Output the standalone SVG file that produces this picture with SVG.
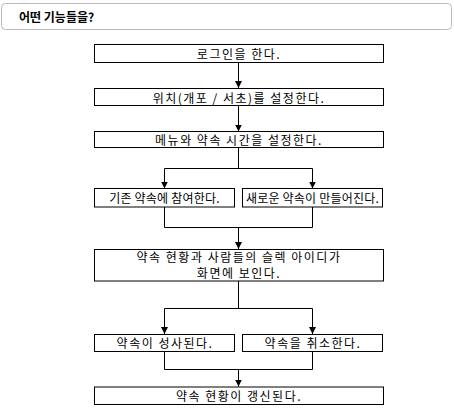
<svg xmlns="http://www.w3.org/2000/svg" width="454" height="413" viewBox="0 0 454 413">
<style>
.box{fill:#fff;stroke:#000;stroke-width:1}
.t{font-family:"Noto Sans CJK KR","Liberation Sans",sans-serif;font-size:12px;letter-spacing:1.5px;fill:#000;text-anchor:middle;dominant-baseline:central}
.s{letter-spacing:0.2px}
.c{fill:none;stroke:#000;stroke-width:1}
</style>
<defs>
<marker id="ah" markerWidth="8" markerHeight="8" refX="7" refY="4" orient="auto" markerUnits="userSpaceOnUse">
<path d="M0,0.5 L7,4 L0,7.5 Z" fill="#000"/>
</marker>
</defs>
<g id="header">
<rect x="1.5" y="3.5" width="450" height="26" rx="4" fill="#fff" stroke="#bbb" stroke-width="1"/>
<text x="19" y="16.5" style="font-family:'Noto Sans CJK KR','Liberation Sans',sans-serif;font-size:12px;font-weight:bold;dominant-baseline:central">어떤 기능들을?</text>
</g>
<g id="connectors">
<path class="c" d="M238.5,63 V88" marker-end="url(#ah)"/>
<path class="c" d="M238.5,106 V131.5" marker-end="url(#ah)"/>
<path class="c" d="M238.5,147.5 V168.5 M164.5,168.5 H312.5"/>
<path class="c" d="M164.5,168.5 V188.5" marker-end="url(#ah)"/>
<path class="c" d="M312.5,168.5 V188.5" marker-end="url(#ah)"/>
<path class="c" d="M164.5,207 V227.5 H312.5 V207"/>
<path class="c" d="M238.5,227.5 V249" marker-end="url(#ah)"/>
<path class="c" d="M238.5,281 V308.5 M164.5,308.5 H312.5"/>
<path class="c" d="M164.5,308.5 V334" marker-end="url(#ah)"/>
<path class="c" d="M312.5,308.5 V334" marker-end="url(#ah)"/>
<path class="c" d="M164.5,351.5 V369.5 H312.5 V351.5"/>
<path class="c" d="M238.5,369.5 V386.5" marker-end="url(#ah)"/>
</g>
<g id="n1"><rect class="box" x="94.5" y="44.5" width="289" height="18"/><text class="t" x="239" y="53.5">로그인을 한다.</text></g>
<g id="n2"><rect class="box" x="94.5" y="88.5" width="289" height="17"/><text class="t" x="239" y="97">위치(개포 / 서초)를 설정한다.</text></g>
<g id="n3"><rect class="box" x="94.5" y="131.5" width="289" height="16"/><text class="t" x="239" y="139.5">메뉴와 약속 시간을 설정한다.</text></g>
<g id="n4"><rect class="box" x="94.5" y="188.5" width="140" height="18.5"/><text class="t s" x="164.5" y="197.5">기존 약속에 참여한다.</text></g>
<g id="n5"><rect class="box" x="242.5" y="188.5" width="140" height="18.5"/><text class="t s" x="312.5" y="197.5">새로운 약속이 만들어진다.</text></g>
<g id="n6"><rect class="box" x="94.5" y="249.5" width="289" height="31.5"/><text class="t" x="239" y="256">약속 현황과 사람들의 슬렉 아이디가</text><text class="t" x="239" y="272">화면에 보인다.</text></g>
<g id="n7"><rect class="box" x="94.5" y="334.5" width="140" height="17"/><text class="t" x="165" y="342.5">약속이 성사된다.</text></g>
<g id="n8"><rect class="box" x="242.5" y="334.5" width="140" height="17"/><text class="t" x="313" y="342.5">약속을 취소한다.</text></g>
<g id="n9"><rect class="box" x="94.5" y="387" width="289" height="17.5"/><text class="t" x="239" y="395.5">약속 현황이 갱신된다.</text></g>
</svg>
